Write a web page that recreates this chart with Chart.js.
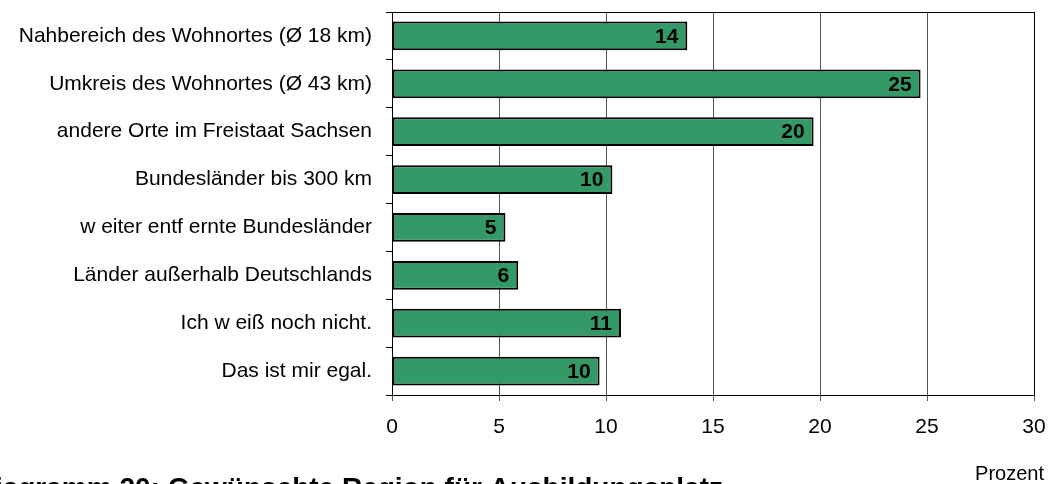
<!DOCTYPE html>
<html>
<head>
<meta charset="utf-8">
<script src="https://cdn.jsdelivr.net/npm/chart.js@4/dist/chart.umd.min.js"></script>
<style>
    html, body { margin: 0; padding: 0; background: #fff; }
    #wrap { width: 1049px; height: 484px; position: relative; }
</style>
</head>
<body>
<div id="wrap"><canvas id="chart"></canvas></div>
<script>
// Gewünschte Region für Ausbildungsplatz
const categories = [
    'Nahbereich des Wohnortes (Ø 18 km)',
    'Umkreis des Wohnortes (Ø 43 km)',
    'andere Orte im Freistaat Sachsen',
    'Bundesländer bis 300 km',
    'w eiter entf ernte Bundesländer',
    'Länder außerhalb Deutschlands',
    'Ich w eiß noch nicht.',
    'Das ist mir egal.'
];
const percentValues = [13.8, 24.7, 19.7, 10.3, 5.3, 5.9, 10.7, 9.7];
const xTicks = [0, 5, 10, 15, 20, 25, 30];

const titleText = 'Diagramm 20: Gewünschte Region für Ausbildungsplatz';
const unitText = 'Prozent';

const FONT = '"Liberation Sans", Arial, sans-serif';

// value labels inside the bar end + plot border + caption texts
const extrasPlugin = {
    id: 'extras',
    afterDatasetsDraw(chart) {
        const ctx = chart.ctx;
        const area = chart.chartArea;
        const meta = chart.getDatasetMeta(0);

        ctx.save();
        ctx.font = 'bold 21px ' + FONT;
        ctx.fillStyle = '#000';
        ctx.textAlign = 'right';
        ctx.textBaseline = 'middle';
        meta.data.forEach((bar, i) => {
            ctx.fillText(Math.round(percentValues[i]), bar.x - 9, bar.y + 1);
        });

        // top and right border of plot area
        ctx.strokeStyle = '#000';
        ctx.lineWidth = 1;
        ctx.beginPath();
        ctx.moveTo(area.left, area.top + 0.5);
        ctx.lineTo(area.right + 0.5, area.top + 0.5);
        ctx.lineTo(area.right + 0.5, area.bottom);
        ctx.stroke();

        ctx.font = '20px ' + FONT;
        ctx.textAlign = 'right';
        ctx.textBaseline = 'alphabetic';
        ctx.fillText(unitText, 1044, 480);

        ctx.font = 'bold 28px ' + FONT;
        ctx.fillText(titleText, 723, 497);
        ctx.restore();
    }
};

new Chart(document.getElementById('chart'), {
    type: 'bar',
    data: {
        labels: categories,
        datasets: [{
            data: percentValues,
            backgroundColor: '#339966',
            borderColor: '#000',
            borderWidth: 2,
            borderSkipped: false,
            categoryPercentage: 1,
            barPercentage: 0.6
        }]
    },
    options: {
        indexAxis: 'y',
        responsive: true,
        maintainAspectRatio: false,
        animation: false,
        layout: {
            padding: { top: 12, right: 15, bottom: 0, left: 0 }
        },
        plugins: {
            legend: { display: false },
            tooltip: { enabled: false }
        },
        scales: {
            x: {
                min: 0,
                max: 30,
                afterBuildTicks(axis) {
                    axis.ticks = xTicks.map(v => ({ value: v }));
                },
                afterFit(axis) {
                    axis.height = 89;
                    axis.paddingLeft = 0;
                    axis.paddingRight = 0;
                },
                border: { color: '#000', width: 1 },
                grid: {
                    color: '#555',
                    lineWidth: 1,
                    tickLength: 6,
                    tickColor: '#555'
                },
                ticks: {
                    color: '#000',
                    padding: 14,
                    font: { family: FONT, size: 21 }
                }
            },
            y: {
                afterFit(axis) {
                    axis.width = 392;
                    axis.paddingTop = 0;
                    axis.paddingBottom = 0;
                },
                offset: true,
                border: { color: '#000', width: 1 },
                grid: {
                    offset: true,
                    drawOnChartArea: false,
                    tickLength: 6,
                    color: '#000'
                },
                ticks: {
                    color: '#000',
                    padding: 14,
                    font: { family: FONT, size: 21 }
                }
            }
        }
    },
    plugins: [extrasPlugin]
});
</script>
</body>
</html>
